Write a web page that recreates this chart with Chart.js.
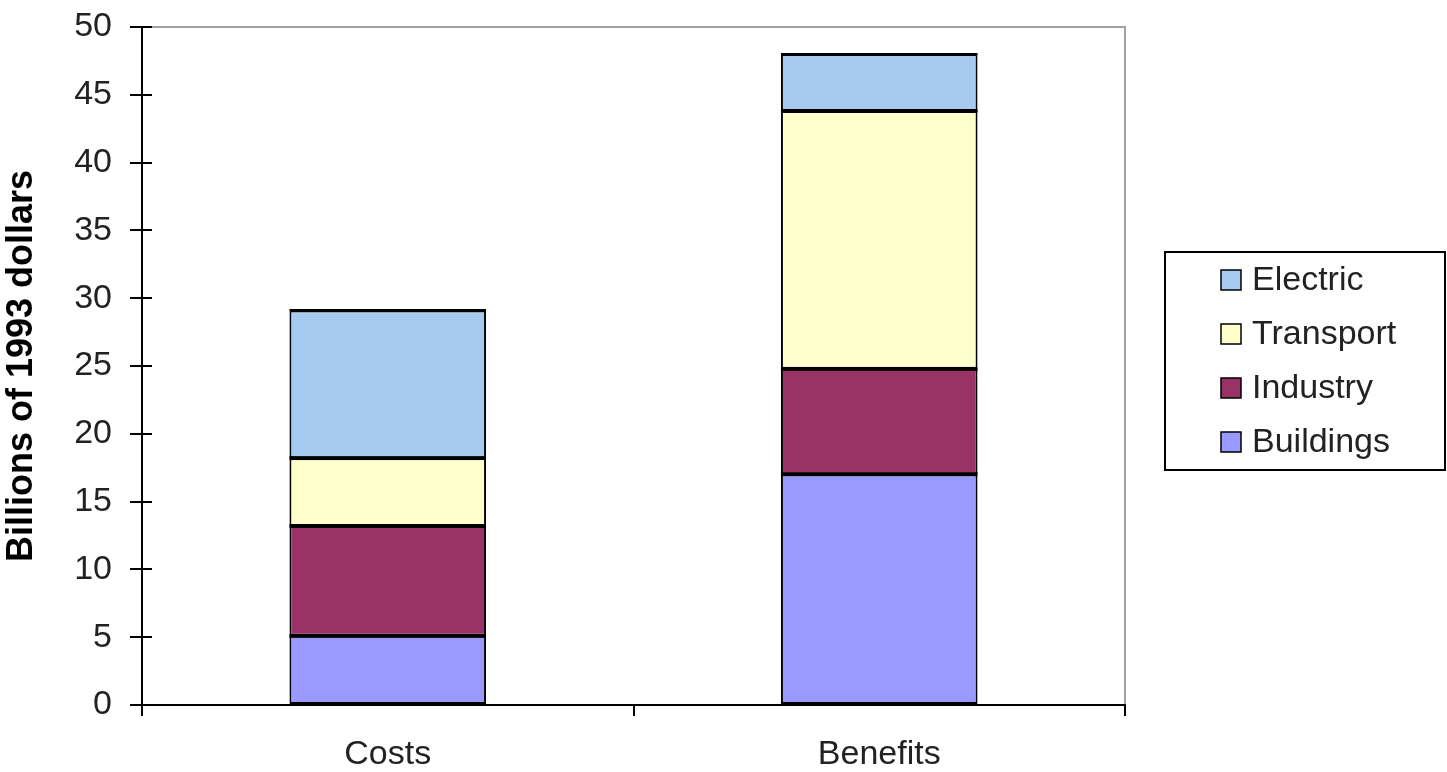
<!DOCTYPE html>
<html>
<head>
<meta charset="utf-8">
<script src="https://cdn.jsdelivr.net/npm/chart.js@4"></script>
<style>
  html, body { margin: 0; padding: 0; background: #fff; }
  #wrap { width: 1447px; height: 772px; position: relative; }
</style>
</head>
<body>
<div id="wrap"><canvas id="c" width="1447" height="772"></canvas></div>
<script>
const categories = ["Costs", "Benefits"];
const buildings = [5.1, 17.0];
const industry = [8.1, 7.8];
const transport = [5.0, 19.0];
const electric = [10.9, 4.2];
const yTicks = [0, 5, 10, 15, 20, 25, 30, 35, 40, 45, 50];
const yTitle = "Billions of 1993 dollars";

const FONT = "'Liberation Sans', Arial, sans-serif";

const frame = {
  id: 'frame',
  beforeDraw(chart) {
    const { ctx, chartArea: a } = chart;
    ctx.save();
    ctx.strokeStyle = '#a0a0a0';
    ctx.lineWidth = 2;
    ctx.beginPath();
    ctx.moveTo(a.left, a.top);
    ctx.lineTo(a.right, a.top);
    ctx.lineTo(a.right, a.bottom);
    ctx.stroke();
    ctx.restore();
  },
  afterDatasetsDraw(chart) {
    const { ctx } = chart;
    ctx.save();
    ctx.strokeStyle = '#000';
    const n = chart.data.datasets.length;
    chart.data.datasets.forEach((d, di) => {
      const meta = chart.getDatasetMeta(di);
      meta.data.forEach(el => {
        const l = el.x - el.width / 2, r = el.x + el.width / 2;
        const yTop = Math.round(el.y);
        ctx.lineWidth = di < n - 1 ? 3.5 : 2;
        ctx.beginPath();
        ctx.moveTo(l, yTop);
        ctx.lineTo(r, yTop);
        ctx.stroke();
      });
    });
    ctx.restore();
  },
  afterDraw(chart) {
    const { ctx, chartArea: a } = chart;
    const y = chart.scales.y;
    ctx.save();
    ctx.strokeStyle = '#000';
    ctx.lineWidth = 2;
    yTicks.forEach(v => {
      const py = Math.round(y.getPixelForValue(v));
      ctx.beginPath();
      ctx.moveTo(a.left, py);
      ctx.lineTo(a.left + 10, py);
      ctx.stroke();
    });
    ctx.beginPath();
    ctx.moveTo(a.left, a.bottom);
    ctx.lineTo(a.left, a.bottom + 11);
    ctx.stroke();

    // legend
    const lx = 1165, ly = 252, lw = 280, lh = 218;
    ctx.lineWidth = 2;
    ctx.strokeStyle = '#000';
    ctx.fillStyle = '#fff';
    ctx.fillRect(lx, ly, lw, lh);
    ctx.strokeRect(lx, ly, lw, lh);
    const ds = chart.data.datasets.slice().reverse();
    ctx.font = '34px ' + FONT;
    ctx.textBaseline = 'middle';
    ctx.textAlign = 'left';
    ds.forEach((d, i) => {
      const cy = 280 + i * 54;
      ctx.fillStyle = d.backgroundColor;
      ctx.fillRect(1221, cy - 10, 20, 20);
      ctx.lineWidth = 1.5;
      ctx.strokeStyle = '#000';
      ctx.strokeRect(1221, cy - 10, 20, 20);
      ctx.fillStyle = '#222';
      ctx.fillText(d.label, 1252, cy + 1);
    });
    ctx.restore();
  }
};

new Chart(document.getElementById('c'), {
  type: 'bar',
  data: {
    labels: categories,
    datasets: [
      { label: 'Buildings', data: buildings, backgroundColor: '#9999FF' },
      { label: 'Industry', data: industry, backgroundColor: '#993366' },
      { label: 'Transport', data: transport, backgroundColor: '#FFFFCC' },
      { label: 'Electric', data: electric, backgroundColor: '#A6CAF0' }
    ].map(d => Object.assign(d, { borderColor: '#000', borderWidth: 2, borderSkipped: false, inflateAmount: 0, barPercentage: 0.4, categoryPercentage: 1.0 }))
  },
  options: {
    responsive: false,
    animation: false,
    layout: { padding: { top: 27, right: 322, left: 0, bottom: 0 } },
    plugins: { legend: { display: false }, tooltip: { enabled: false } },
    scales: {
      x: {
        stacked: true,
        grid: { display: true, drawOnChartArea: false, offset: true, tickLength: 11, color: '#000', lineWidth: 2 },
        border: { display: true, color: '#000', width: 2 },
        ticks: { color: '#222', font: { family: FONT, size: 34 }, padding: 18 },
        afterFit(s) { s.height = 67; s.paddingLeft = 0; s.paddingRight = 0; }
      },
      y: {
        stacked: true,
        min: 0, max: 50,
        afterBuildTicks(s) { s.ticks = yTicks.map(v => ({ value: v })); },
        grid: { display: true, drawOnChartArea: false, tickLength: 12, color: '#000', lineWidth: 2 },
        border: { display: true, color: '#000', width: 2 },
        ticks: { color: '#222', font: { family: FONT, size: 34 }, padding: 18 },
        title: { display: true, text: yTitle, color: '#000', font: { family: FONT, size: 36, weight: 'bold' }, padding: { top: 0, bottom: 0 } },
        afterFit(s) { s.width = 142; s.paddingTop = 0; s.paddingBottom = 0; }
      }
    }
  },
  plugins: [frame]
});
</script>
</body>
</html>
